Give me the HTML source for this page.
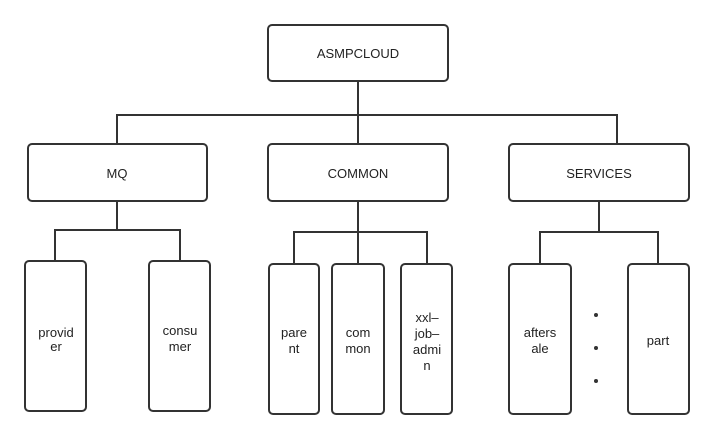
<!DOCTYPE html>
<html><head><meta charset="utf-8"><style>
body{margin:0;background:#fff}
svg{display:block}
text{font-family:"Liberation Sans",sans-serif;font-size:13px;fill:#222;text-anchor:middle}
</style></head><body>
<svg width="714" height="439" viewBox="0 0 714 439">
<g fill="none" stroke="#333" stroke-width="2">
<rect x="268" y="25" width="180" height="56" rx="4"/>
<rect x="28" y="144" width="179" height="57" rx="4"/>
<rect x="268" y="144" width="180" height="57" rx="4"/>
<rect x="509" y="144" width="180" height="57" rx="4"/>
<rect x="25" y="261" width="61" height="150" rx="4"/>
<rect x="149" y="261" width="61" height="150" rx="4"/>
<rect x="269" y="264" width="50" height="150" rx="4"/>
<rect x="332" y="264" width="52" height="150" rx="4"/>
<rect x="401" y="264" width="51" height="150" rx="4"/>
<rect x="509" y="264" width="62" height="150" rx="4"/>
<rect x="628" y="264" width="61" height="150" rx="4"/>
<path d="M358 81V115M117 144V115H617V144M358 115V144"/>
<path d="M117 201V230M55 261V230H180V261"/>
<path d="M358 201V264M294 264V232H427V264"/>
<path d="M599 201V232M540 264V232H658V264"/>
</g>
<g fill="#333"><circle cx="596" cy="315" r="2"/><circle cx="596" cy="348" r="2"/><circle cx="596" cy="381" r="2"/></g>
<text x="358" y="58">ASMPCLOUD</text>
<text x="117" y="178">MQ</text>
<text x="358" y="178">COMMON</text>
<text x="599" y="178">SERVICES</text>
<text x="56" y="337">provid</text><text x="56" y="351">er</text>
<text x="180" y="335">consu</text><text x="180" y="351">mer</text>
<text x="294" y="337">pare</text><text x="294" y="353">nt</text>
<text x="358" y="337">com</text><text x="358" y="353">mon</text>
<text x="427" y="322">xxl–</text><text x="427" y="338">job–</text><text x="427" y="354">admi</text><text x="427" y="370">n</text>
<text x="540" y="337">afters</text><text x="540" y="353">ale</text>
<text x="658" y="345">part</text>
</svg>
</body></html>
